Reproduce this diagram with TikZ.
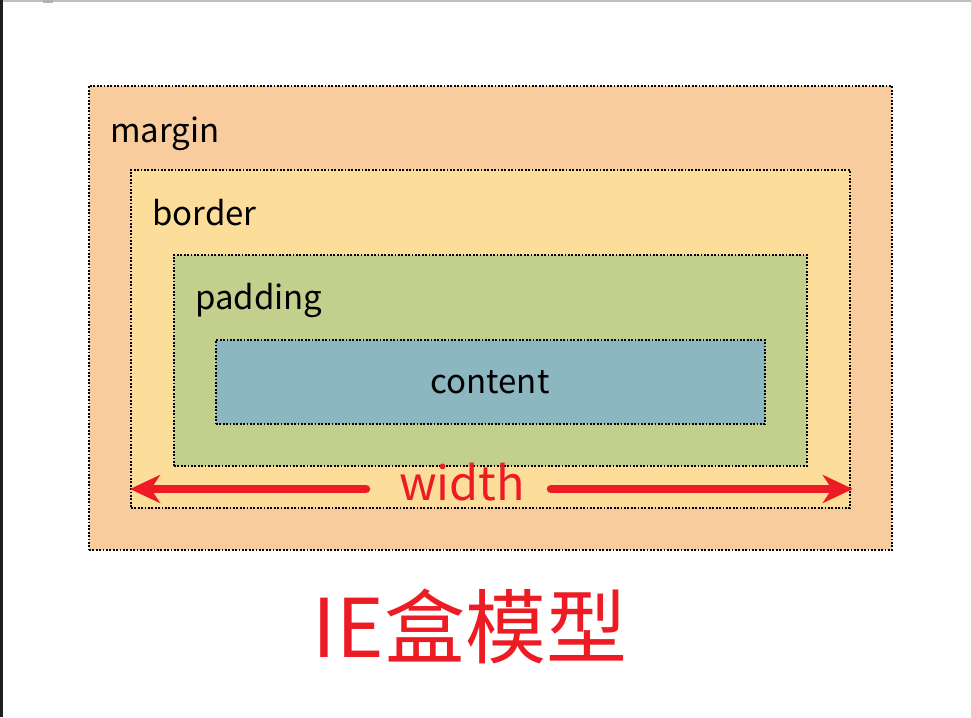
\documentclass[tikz,border=0pt]{standalone}
\usepackage{fontspec}
\setmainfont{Noto Sans CJK SC}
\usetikzlibrary{arrows.meta}

\definecolor{margincol}{HTML}{F8CC9D}
\definecolor{bordercol}{HTML}{FCDD9A}
\definecolor{paddingcol}{HTML}{C3CF8C}
\definecolor{contentcol}{HTML}{8CB6C0}
\definecolor{iered}{HTML}{ED1C24}

\tikzset{
  layer/.style      = {shape=rectangle, draw=black, line width=1.8pt,
                       dash pattern=on 1.8pt off 1.6pt,
                       anchor=north west, inner sep=0pt},
  marginbox/.style  = {layer, fill=margincol},
  borderbox/.style  = {layer, fill=bordercol},
  paddingbox/.style = {layer, fill=paddingcol},
  contentbox/.style = {layer, fill=contentcol},
  layername/.style  = {anchor=base west, inner sep=0pt,
                       font=\fontsize{33}{33}\selectfont},
  widtharrow/.style = {draw=iered, line width=8.5pt, line cap=round,
                       -{Stealth[length=30pt,width=28pt,inset=9pt]}}
}

\begin{document}
\begin{tikzpicture}
[
x=1pt, y=-1pt,
    every node/.style = {text=black}
  ]
\useasboundingbox (0,0) rectangle (971,717);
\fill[white] (0,0) rectangle (971,717);
% window frame
\fill[black!88] (0,0) rectangle (3,717);
\fill[black!25] (3,0) rectangle (971,2);
\fill[black!30] (43,0) rectangle (53,3);

% nested boxes
\node[marginbox,  minimum width=803pt, minimum height=464pt] (margin)  at (88,85)   {};
\node[borderbox,  minimum width=719pt, minimum height=338pt] (border)  at (130,169) {};
\node[paddingbox, minimum width=633pt, minimum height=211pt] (padding) at (173,254) {};
\node[contentbox, minimum width=549pt, minimum height=84pt]  (content) at (215,339) {};

\node[layername] (marginname)  at (110,142) {margin};
\node[layername] (bordername)  at (152,225) {border};
\node[layername] (paddingname) at (195,309) {padding};
\node[layername, anchor=base] (contentname) at (490,393) {content};

% width arrow
\node[anchor=base, inner sep=0pt, text=iered,
      font=\fontsize{47}{47}\selectfont] (widthname) at (462,500) {width};
\coordinate (wleft)  at (366,489);
\coordinate (wright) at (551,489);
\coordinate (bleft)  at (border.west |- wleft);
\coordinate (bright) at ([xshift=2pt]border.east |- wright);
\draw[widtharrow] (wleft) -- (bleft);
\draw[widtharrow] (wright) -- (bright);

\node[anchor=base, inner sep=0pt, text=iered,
      font=\fontsize{81}{81}\selectfont] (title) at (470,657) {IE盒模型};
\end{tikzpicture}
\end{document}
